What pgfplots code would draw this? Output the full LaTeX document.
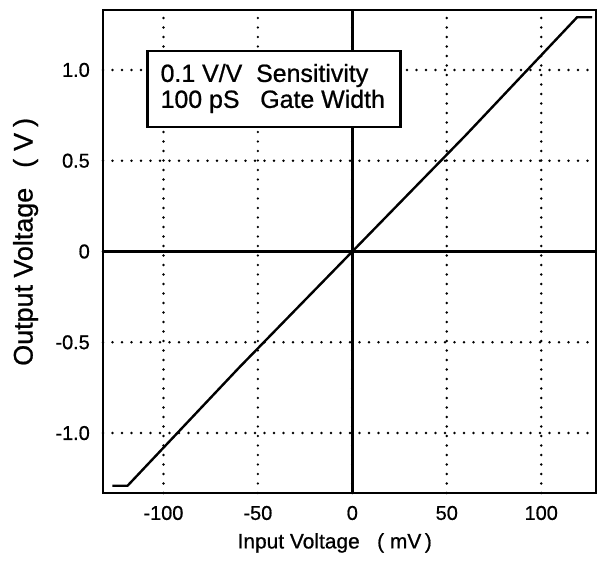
\documentclass[border=0pt]{standalone}
\usepackage{fontspec}
\setmainfont{Liberation Sans}[FakeBold=0.8]
\usepackage{pgfplots}
\pgfplotsset{compat=1.18}

\begin{document}
\begin{tikzpicture}
\begin{axis}[
    scale only axis,
    width=493bp, height=483bp,
    xmin=-132, xmax=129,
    ymin=-1.33, ymax=1.33,
    clip=false,
    axis line style={line width=2.8bp},
    major tick length=0pt,
    xtick={-100,-50,50,100},
    xticklabels={-100,-50,50,100},
    extra x ticks={0},
    extra x tick labels={0},
    ytick={-1,-0.5,0.5,1},
    yticklabels={-1.0,-0.5,0.5,1.0},
    extra y ticks={0},
    extra y tick labels={0},
    grid=major,
    major grid style={black, line width=2.7bp, line cap=round, dash pattern=on 0pt off 9.5bp},
    xticklabel style={font=\fontsize{20}{24}\selectfont, inner sep=0pt, anchor=center, yshift=-20bp},
    yticklabel style={font=\fontsize{20}{24}\selectfont, inner sep=0pt, anchor=east, xshift=-13bp},
    xlabel={Input Voltage\ \ \ ( mV\,)},
    ylabel={Output Voltage\hspace{20bp}(\hspace{8bp}V\hspace{6bp})},
    xlabel style={font=\fontsize{21}{25}\selectfont, at={(axis description cs:0.47,-0.1035)}, anchor=center, inner sep=0pt},
    ylabel style={font=\fontsize{27}{31}\selectfont, at={(axis description cs:-0.157,0.52)}, anchor=center, inner sep=0pt},
]
% zero lines
\draw[black, line width=2.6bp] (axis cs:0,-1.33) -- (axis cs:0,1.33);
\draw[black, line width=2.6bp] (axis cs:-132,0) -- (axis cs:129,0);
\addplot[black, line width=2.4bp] coordinates {
    (-127,-1.29) (-119,-1.29) (-60,-0.64) (0,0) (60,0.64) (119,1.29) (127,1.29)
};
\draw[fill=white, line width=2.4bp] (axis cs:-108.5,0.687) rectangle (axis cs:25.4,1.104);
\node[anchor=base west, inner sep=0pt, font=\fontsize{25}{30}\selectfont] at (axis cs:-101.6,0.934) {0.1 V/V\ \ Sensitivity};
\node[anchor=base west, inner sep=0pt, font=\fontsize{25}{30}\selectfont] at (axis cs:-101.6,0.791) {100 pS\ \ \ Gate Width};
\end{axis}
\pgfresetboundingbox
\path (-103bp,-69bp) rectangle (496bp,493bp);
\end{tikzpicture}
\end{document}
